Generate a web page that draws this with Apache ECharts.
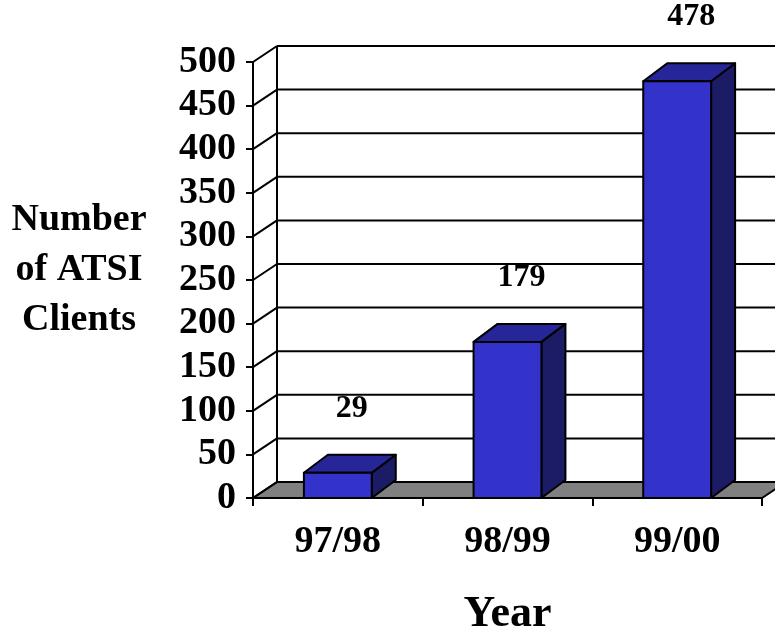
<!DOCTYPE html>
<html>
<head>
<meta charset="utf-8">
<script src="https://cdn.jsdelivr.net/npm/echarts@6/dist/echarts.min.js"></script>
<style>
  html, body { margin: 0; padding: 0; background: #fff; }
  #chart { width: 775px; height: 628px; }
</style>
</head>
<body>
<div id="chart"></div>
<script>
// data
const years = ['97/98', '98/99', '99/00'];
const clients = [29, 179, 478];
const yTicks = [0, 50, 100, 150, 200, 250, 300, 350, 400, 450, 500];

const FONT = '"Liberation Serif", "Times New Roman", serif';
// 3D depth offsets (px)
const WALL_DX = 24, WALL_DY = -16;
const BAR_DX = 24, BAR_DY = -18;
const LINE = '#000';

const chart = echarts.init(document.getElementById('chart'));

function renderWall(params, api) {
  const cs = params.coordSys;
  const v = api.value(0);
  const p = api.coord([0, v]);
  const x0 = cs.x;
  const x1 = cs.x + cs.width;
  const y = p[1];
  const children = [];
  if (v === 0) {
    children.push({
      type: 'polygon',
      shape: { points: [[x0, y], [x1, y], [x1 + WALL_DX, y + WALL_DY], [x0 + WALL_DX, y + WALL_DY]] },
      style: { fill: '#808080', stroke: LINE, lineWidth: 2 }
    });
  } else {
    children.push({
      type: 'line',
      shape: { x1: x0 + WALL_DX, y1: y + WALL_DY, x2: x1 + WALL_DX, y2: y + WALL_DY },
      style: { stroke: LINE, lineWidth: 2 }
    });
  }
  children.push({
    type: 'line',
    shape: { x1: x0, y1: y, x2: x0 + WALL_DX, y2: y + WALL_DY },
    style: { stroke: LINE, lineWidth: 2 }
  });
  if (v === yTicks[yTicks.length - 1]) {
    const yb = api.coord([0, 0])[1];
    children.push({
      type: 'line',
      shape: { x1: x0 + WALL_DX, y1: y + WALL_DY, x2: x0 + WALL_DX, y2: yb + WALL_DY },
      style: { stroke: LINE, lineWidth: 2 }
    });
  }
  return { type: 'group', children };
}

function renderBar(params, api) {
  const idx = api.value(0);
  const val = api.value(1);
  const base = api.coord([idx, 0]);
  const top = api.coord([idx, val]);
  const w = api.size([1, 0])[0] * 0.4;
  const l = base[0] - w / 2, r = base[0] + w / 2;
  const yb = base[1], yt = top[1];
  const stroke = { stroke: LINE, lineWidth: 2, lineJoin: 'round' };
  return {
    type: 'group',
    children: [
      {
        type: 'polygon',
        shape: { points: [[r, yb], [r + BAR_DX, yb + BAR_DY], [r + BAR_DX, yt + BAR_DY], [r, yt]] },
        style: Object.assign({ fill: '#1C1C66' }, stroke)
      },
      {
        type: 'polygon',
        shape: { points: [[l, yt], [r, yt], [r + BAR_DX, yt + BAR_DY], [l + BAR_DX, yt + BAR_DY]] },
        style: Object.assign({ fill: '#262699' }, stroke)
      },
      {
        type: 'rect',
        shape: { x: l, y: yt, width: w, height: yb - yt },
        style: Object.assign({ fill: '#3333CC' }, stroke)
      },
      {
        type: 'text',
        x: base[0] + 14,
        y: yt - 64,
        style: {
          text: String(val),
          font: 'bold 32px ' + FONT,
          fill: '#000',
          align: 'center',
          verticalAlign: 'middle'
        }
      }
    ]
  };
}

const option = {
  animation: false,
  backgroundColor: '#fff',
  grid: { left: 253, right: 13, top: 62, bottom: 130, containLabel: false, outerBoundsMode: 'none' },
  xAxis: {
    type: 'category',
    data: years,
    name: 'Year',
    nameLocation: 'middle',
    nameGap: 95,
    nameTextStyle: { fontFamily: FONT, fontWeight: 'bold', fontSize: 44, color: '#000' },
    axisLine: { show: true, lineStyle: { color: LINE, width: 2 } },
    axisTick: { show: true, alignWithLabel: false, length: 8, lineStyle: { color: LINE, width: 2 } },
    axisLabel: { margin: 25, fontFamily: FONT, fontWeight: 'bold', fontSize: 38, color: '#000' },
    splitLine: { show: false }
  },
  yAxis: {
    type: 'value',
    min: 0,
    max: 500,
    interval: 50,
    axisLine: { show: true, lineStyle: { color: LINE, width: 2 } },
    axisTick: { show: true, length: 7, lineStyle: { color: LINE, width: 2 } },
    axisLabel: { margin: 17, fontFamily: FONT, fontWeight: 'bold', fontSize: 38, color: '#000' },
    splitLine: { show: false }
  },
  graphic: [{
    type: 'text',
    x: 79,
    y: 270,
    style: {
      text: 'Number\nof ATSI\nClients',
      font: 'bold 38px ' + FONT,
      lineHeight: 50,
      fill: '#000',
      align: 'center',
      verticalAlign: 'middle'
    }
  }],
  series: [
    {
      type: 'custom',
      renderItem: renderWall,
      data: yTicks.map(v => [v]),
      encode: { y: 0 },
      z: 1,
      silent: true
    },
    {
      type: 'custom',
      renderItem: renderBar,
      data: clients.map((v, i) => [i, v]),
      encode: { x: 0, y: 1 },
      z: 3,
      silent: true
    }
  ]
};

chart.setOption(option);
</script>
</body>
</html>
